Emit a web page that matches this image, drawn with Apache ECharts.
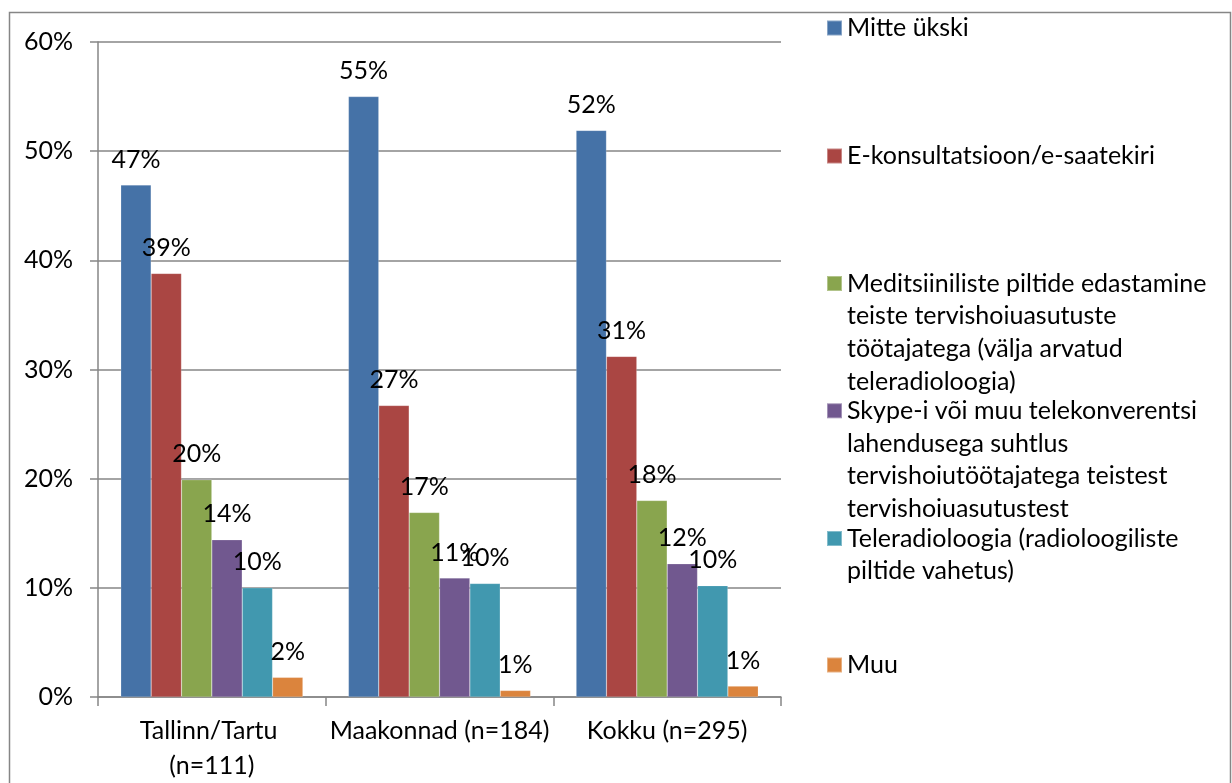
<!DOCTYPE html>
<html>
<head>
<meta charset="utf-8">
<script src="https://cdn.jsdelivr.net/npm/echarts@6/dist/echarts.min.js"></script>
<style>
html,body{margin:0;padding:0;background:#fff;}
#c{width:1232px;height:783px;}
</style>
</head>
<body>
<div id="c"></div>
<script>
const categories = ['Tallinn/Tartu (n=111)', 'Maakonnad (n=184)', 'Kokku (n=295)'];
const seriesNames = [
  'Mitte ükski',
  'E-konsultatsioon/e-saatekiri',
  'Meditsiiniliste piltide edastamine teiste tervishoiuasutuste töötajatega (välja arvatud teleradioloogia)',
  'Skype-i või muu telekonverentsi lahendusega suhtlus tervishoiutöötajatega teistest tervishoiuasutustest',
  'Teleradioloogia (radioloogiliste piltide vahetus)',
  'Muu'
];
const legendLines = [
  'Mitte ükski',
  'E-konsultatsioon/e-saatekiri',
  'Meditsiiniliste piltide edastamine\nteiste tervishoiuasutuste\ntöötajatega (välja arvatud\nteleradioloogia)',
  'Skype-i või muu telekonverentsi\nlahendusega suhtlus\ntervishoiutöötajatega teistest\ntervishoiuasutustest',
  'Teleradioloogia (radioloogiliste\npiltide vahetus)',
  'Muu'
];
const mitteUkski = [46.9, 55.0, 51.9];
const eKonsultatsioon = [38.8, 26.7, 31.2];
const meditsiinilisedPildid = [19.9, 16.9, 18.0];
const skype = [14.4, 10.9, 12.2];
const teleradioloogia = [10.0, 10.4, 10.2];
const muu = [1.8, 0.6, 1.0];
const yTicks = [0, 10, 20, 30, 40, 50, 60];

const values = [mitteUkski, eKonsultatsioon, meditsiinilisedPildid, skype, teleradioloogia, muu];
const colors = ['#4572A7', '#AA4643', '#89A54E', '#71588F', '#4198AF', '#DB843D'];
const FONT = 'Lato';
const FS = 25;
const LH = 32.8;
const iconCenters = [28, 156, 283.5, 410.8, 538.5, 665];

const legends = seriesNames.map((name, i) => {
  const n = legendLines[i].split('\n').length;
  // prepend empty lines so the first real line sits level with the icon
  const txt = '\n'.repeat(n - 1) + legendLines[i];
  return {
    data: [name],
    orient: 'vertical',
    left: 826,
    top: iconCenters[i] - (2 * n - 1) * LH / 2,
    padding: 0,
    itemWidth: 15,
    itemHeight: 15,
    icon: 'rect',
    selectedMode: false,
    formatter: () => txt,
    textStyle: {
      fontFamily: FONT,
      fontSize: FS,
      color: '#000',
      lineHeight: LH
    }
  };
});

const chart = echarts.init(document.getElementById('c'), null, {renderer: 'canvas'});
chart.setOption({
  animation: false,
  backgroundColor: '#fff',
  textStyle: {fontFamily: FONT},
  graphic: [{
    type: 'rect',
    shape: {x: 9.5, y: 12.5, width: 1221, height: 820},
    style: {fill: 'none', stroke: '#868686', lineWidth: 1.5},
    silent: true,
    z: -1
  }],
  legend: legends,
  grid: {left: 98, right: 451, top: 42, bottom: 86, containLabel: false},
  xAxis: {
    type: 'category',
    data: categories,
    axisLine: {lineStyle: {color: '#868686', width: 1.5}},
    axisTick: {show: true, length: 9, lineStyle: {color: '#868686', width: 1.5}},
    axisLabel: {
      fontFamily: FONT, fontSize: FS, color: '#000', margin: 16, lineHeight: 35,
      width: 226, overflow: 'break', interval: 0
    },
    splitLine: {show: false}
  },
  yAxis: {
    type: 'value',
    min: yTicks[0],
    max: yTicks[yTicks.length - 1],
    interval: 10,
    axisLine: {show: true, lineStyle: {color: '#868686', width: 1.5}},
    axisTick: {show: true, length: 8, lineStyle: {color: '#868686', width: 1.5}},
    axisLabel: {fontFamily: FONT, fontSize: FS, color: '#000', margin: 25, formatter: v => v + '%'},
    splitLine: {show: true, lineStyle: {color: '#868686', width: 1.5}}
  },
  series: seriesNames.map((name, i) => ({
    name: name,
    type: 'bar',
    data: values[i],
    barGap: '0%',
    barCategoryGap: '20%',
    itemStyle: {color: colors[i], borderColor: 'rgba(255,255,255,0.35)', borderWidth: 0.5},
    label: {
      show: true,
      position: 'top',
      distance: 13,
      fontFamily: FONT,
      fontSize: FS,
      color: '#000',
      formatter: p => Math.round(p.value) + '%'
    }
  }))
});
</script>
</body>
</html>
